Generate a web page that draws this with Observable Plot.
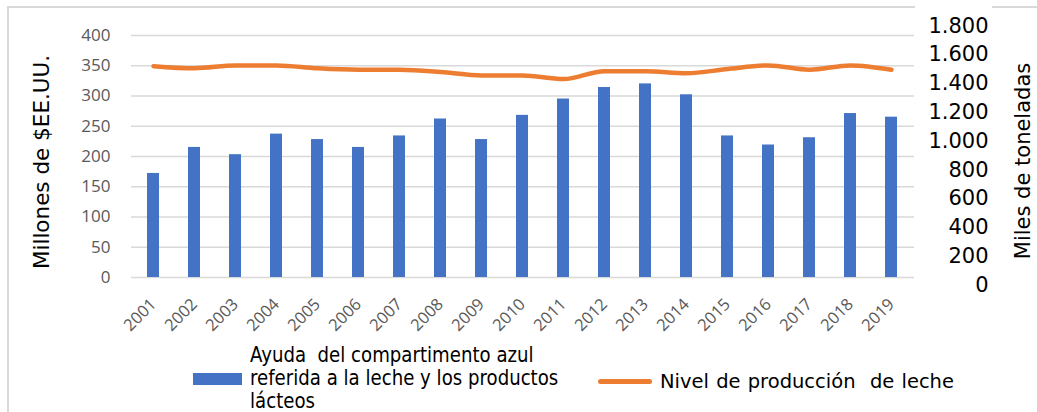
<!DOCTYPE html>
<html><head><meta charset="utf-8">
<script src="https://cdn.jsdelivr.net/npm/d3@7"></script>
<script src="https://cdn.jsdelivr.net/npm/@observablehq/plot@0.6"></script>
<style>
body{margin:0;background:#fff;}
#wrap{position:relative;width:1037px;height:412px;overflow:hidden;font-family:"DejaVu Sans",sans-serif;color:#000;}
#border{position:absolute;left:7px;top:6px;width:1060px;height:440px;border:2px solid #d9d9d9;}
#patch{position:absolute;left:915px;top:4px;width:77px;height:6px;background:#fff;}
#chart{position:absolute;left:0;top:0;}
.ytitle{position:absolute;white-space:nowrap;transform:translate(-50%,-50%) rotate(-90deg);font-size:21.5px;}
#lg1box{position:absolute;left:193px;top:373px;width:49px;height:12px;background:#4472C4;}
#lg1txt{position:absolute;left:250px;top:344px;font-size:20.5px;line-height:23px;transform:scaleX(0.885);transform-origin:left top;white-space:nowrap;}
#lg2line{position:absolute;left:598px;top:379px;width:54px;height:5px;border-radius:3px;background:#ED7D31;}
#lg2txt{position:absolute;left:660px;top:370px;font-size:19.5px;line-height:23px;white-space:nowrap;word-spacing:1px;}
</style></head><body>
<div id="wrap">
  <div id="border"></div>
  <div id="patch"></div>
  <div id="chart"></div>
  <div class="ytitle" style="left:41px;top:162px;">Millones de $EE.UU.</div>
  <div class="ytitle" style="left:1023px;top:161px;font-size:21px;">Miles de toneladas</div>
  <div id="lg1box"></div>
  <div id="lg1txt">Ayuda&nbsp; del compartimento azul<br>referida a la leche y los productos<br>lácteos</div>
  <div id="lg2line"></div>
  <div id="lg2txt">Nivel de producción&nbsp; de leche</div>
</div>
<script>
const years = ["2001","2002","2003","2004","2005","2006","2007","2008","2009","2010","2011","2012","2013","2014","2015","2016","2017","2018","2019"];
const ayuda = [172,215,203,237,228,215,234,262,228,268,295,314,320,302,234,219,231,271,265];
const produccion = [1520,1505,1525,1525,1505,1495,1495,1480,1455,1455,1430,1485,1485,1470,1500,1525,1495,1525,1495];
const leftTicks = [0,50,100,150,200,250,300,350,400];
const rightTicks = [0,200,400,600,800,1000,1200,1400,1600,1800];

// secondary axis expressed in primary-axis units
const toLeft = r => -12.7 + r * 0.2382;
const fmt = d3.formatLocale({decimal:",", thousands:".", grouping:[3], currency:["",""]}).format(",");

const data = years.map((y, i) => ({year: y, ayuda: ayuda[i], prod: produccion[i]}));

const plot = Plot.plot({
  width: 1037, height: 345,
  marginLeft: 131, marginRight: 123, marginTop: 35, marginBottom: 68,
  style: {background: "transparent", fontFamily: "'Open Sans', sans-serif", overflow: "visible"},
  x: {type: "band", domain: years, paddingInner: 0.7, paddingOuter: 0.35, align: 0.5, axis: null},
  y: {domain: [0, 400], axis: null},
  marks: [
    Plot.ruleY(leftTicks, {stroke: "#d9d9d9", strokeWidth: 1.5}),
    Plot.barY(data, {x: "year", y: "ayuda", fill: "#4472C4"}),
    Plot.line(data, {x: "year", y: d => toLeft(d.prod), stroke: "#ED7D31", strokeWidth: 4.5, curve: "monotone-x", strokeLinecap: "round", strokeLinejoin: "round"}),
    Plot.axisY({ticks: leftTicks, tickSize: 0, tickPadding: 21, fontSize: 17, fill: "#595959", label: null}),
    Plot.axisX({tickRotate: -45, tickSize: 0, tickPadding: 24, fontSize: 16.5, fill: "#595959", label: null}),
    Plot.text(rightTicks, {y: toLeft, text: d => fmt(d), frameAnchor: "right", textAnchor: "end", dx: 74, fontSize: 21, fontFamily: "DejaVu Sans", fill: "#000"})
  ]
});
document.getElementById("chart").appendChild(plot);
</script>
</body></html>
